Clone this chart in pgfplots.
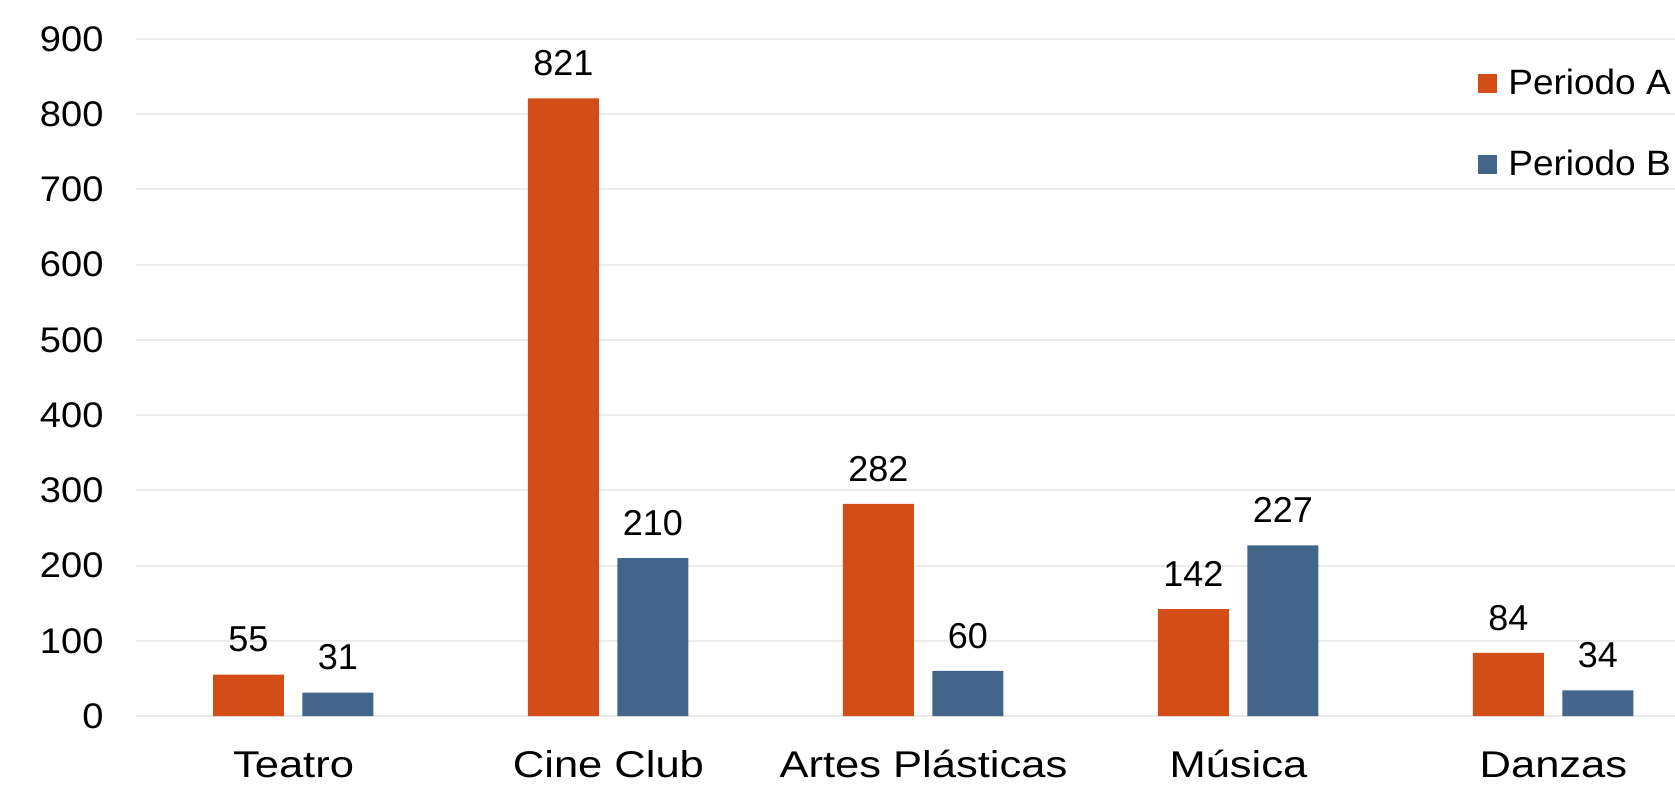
\documentclass[border=0pt]{standalone}
\usepackage{pgfplots}
\pgfplotsset{compat=1.18}
\usepackage{fontspec}
\setmainfont{Liberation Sans}
\newfontfamily\catfont[FakeStretch=1.17]{Liberation Sans}
\newfontfamily\tickfont[FakeStretch=1.07]{Liberation Sans}
\newfontfamily\legfont[FakeStretch=1.05]{Liberation Sans}
\definecolor{cA}{RGB}{211,77,24}
\definecolor{cB}{RGB}{66,101,137}
\definecolor{gridc}{RGB}{235,235,235}
\begin{document}
\begin{tikzpicture}
\useasboundingbox (-68pt,-34pt) rectangle (769.5pt,358pt);
\begin{axis}[
  at={(0pt,0pt)}, anchor=south west,
  scale only axis, width=769.5pt, height=338.5pt,
  xmin=-0.5, xmax=4.386, ymin=0, ymax=900,
  ytick={0,100,...,900},
  xtick={0,1,2,3,4},
  xticklabels={Teatro, Cine Club, Artes Plásticas, Música, Danzas},
  axis line style={draw=none},
  major tick style={draw=none},
  ymajorgrids, grid style={gridc, line width=1pt},
  /pgf/number format/assume math mode=true,
  yticklabel style={font=\tickfont\fontsize{17.8}{21}\selectfont, xshift=-12.7pt},
  xticklabel style={font=\catfont\fontsize{18.6}{22}\selectfont, text height=13.3pt, text depth=0pt, inner sep=1pt, yshift=-16pt},
  nodes near coords,
  nodes near coords style={font=\fontsize{18}{21}\selectfont, anchor=south, yshift=7.7pt},
  clip=false,
  legend style={draw=none, fill=none, inner sep=0pt, at={(0.872,0.875)}, anchor=west,
    row sep=26.3pt, column sep=0pt, nodes={inner sep=0pt}, font=\legfont\fontsize{17.6}{21}\selectfont},
  legend cell align=left,
  legend image code/.code={\fill[#1] (0pt,-4.95pt) rectangle (9.5pt,4.55pt);\path (15pt,0pt);},
]
\addplot[ybar, bar width=0.225, bar shift=0, fill=cA, draw=none] coordinates {(-0.143,55) (0.857,821) (1.857,282) (2.857,142) (3.857,84)};
\addlegendentry{Periodo A}
\addplot[ybar, bar width=0.225, bar shift=0, fill=cB, draw=none] coordinates {(0.141,31) (1.141,210) (2.141,60) (3.141,227) (4.141,34)};
\addlegendentry{Periodo B}
\end{axis}
\end{tikzpicture}
\end{document}
